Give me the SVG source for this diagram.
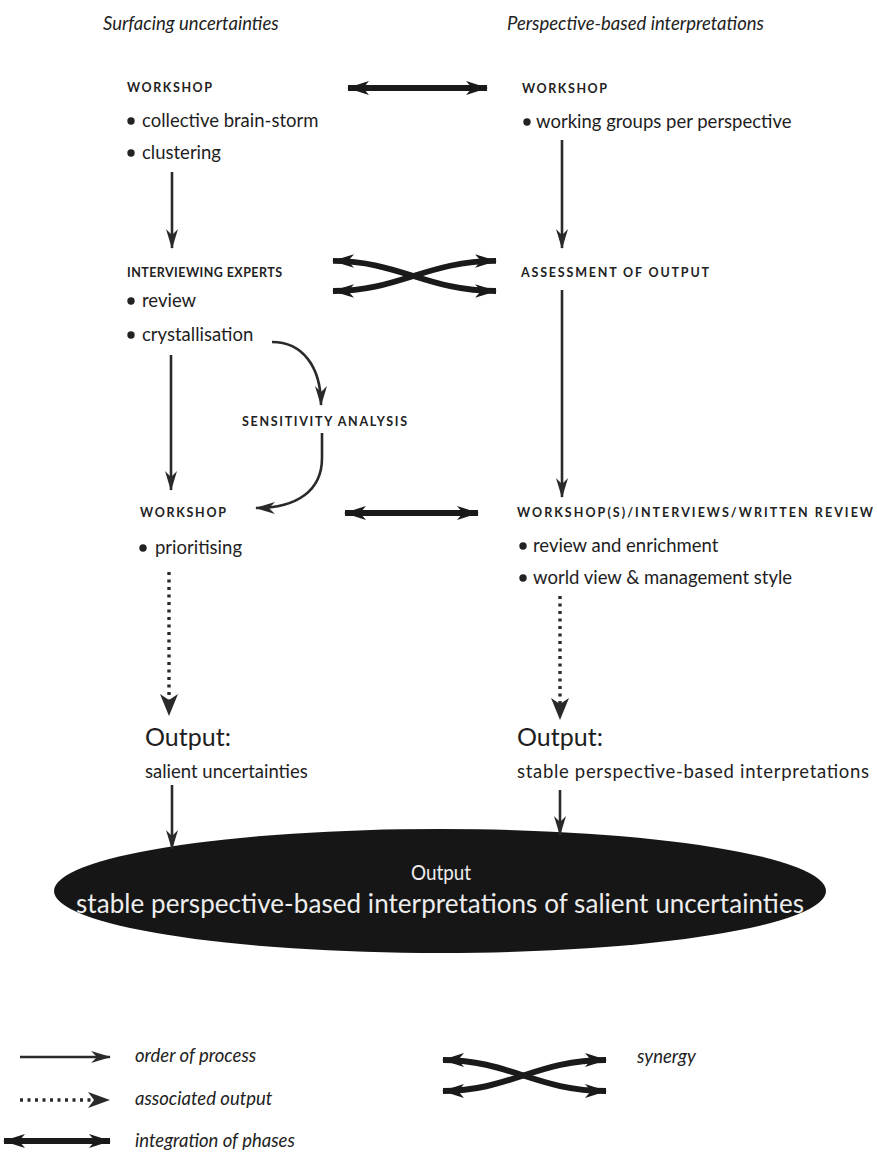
<svg xmlns="http://www.w3.org/2000/svg" width="877" height="1156" viewBox="0 0 877 1156">
  <defs>
    <style>
      .head { font-family: Lato, "Open Sans", sans-serif; font-style: italic; font-size: 18.5px; fill: #222; }
      .caps { font-family: Lato, "Open Sans", sans-serif; font-weight: 700; font-size: 12.5px; letter-spacing: 1px; fill: #222; }
      .body { font-family: Lato, "Open Sans", sans-serif; font-size: 18.5px; fill: #1e1e1e; }
      .out { font-family: Lato, "Open Sans", sans-serif; font-size: 25px; fill: #1e1e1e; }
      .leg { font-family: Lato, "Open Sans", sans-serif; font-style: italic; font-size: 18.5px; fill: #222; }
      .white { font-family: Lato, "Open Sans", sans-serif; fill: #ededed; text-anchor: middle; }
      .flow { fill: none; stroke: #2a2a2a; stroke-width: 2.6; }
      .dots { fill: none; stroke: #2a2a2a; stroke-width: 3.4; stroke-dasharray: 3 4.5; }
      .thick { fill: none; stroke: #1a1a1a; stroke-width: 6; }
      .bullet { fill: #222; }
    </style>
    <marker id="barb" viewBox="0 0 20 12" refX="19" refY="6" markerWidth="20" markerHeight="12" markerUnits="userSpaceOnUse" orient="auto">
      <path d="M0,0 L20,6 L0,12 L6,6 Z" fill="#2a2a2a"/>
    </marker>
    <marker id="barbBig" viewBox="0 0 22 14" refX="21" refY="7" markerWidth="22" markerHeight="14" markerUnits="userSpaceOnUse" orient="auto-start-reverse">
      <path d="M0,0 L22,7 L0,14 L6,7 Z" fill="#1a1a1a"/>
    </marker>
    <g id="synergyIcon">
      <path class="thick" d="M6,2 C72,2 100,33 169,33" marker-start="url(#barbBig)" marker-end="url(#barbBig)"/>
      <path class="thick" d="M6,33 C72,33 100,2 169,2" marker-start="url(#barbBig)" marker-end="url(#barbBig)"/>
    </g>
  </defs>

  <rect width="877" height="1156" fill="#ffffff"/>

  <!-- column headings -->
  <text class="head" x="103" y="30">Surfacing uncertainties</text>
  <text class="head" x="507" y="30">Perspective-based interpretations</text>

  <!-- left column -->
  <g id="workshop-1">
    <text class="caps" x="127" y="92" textLength="86">WORKSHOP</text>
    <circle class="bullet" cx="131" cy="121" r="3.7"/>
    <text class="body" x="142" y="127">collective brain-storm</text>
    <circle class="bullet" cx="131" cy="153" r="3.7"/>
    <text class="body" x="142" y="159">clustering</text>
  </g>
  <g id="interviewing-experts">
    <text class="caps" x="127" y="277" textLength="156">INTERVIEWING EXPERTS</text>
    <circle class="bullet" cx="131" cy="301" r="3.7"/>
    <text class="body" x="142" y="307">review</text>
    <circle class="bullet" cx="131" cy="335" r="3.7"/>
    <text class="body" x="142" y="341">crystallisation</text>
  </g>
  <g id="sensitivity-analysis">
    <text class="caps" x="242" y="426" textLength="166">SENSITIVITY ANALYSIS</text>
  </g>
  <g id="workshop-prioritising">
    <text class="caps" x="140" y="517" textLength="87">WORKSHOP</text>
    <circle class="bullet" cx="143" cy="548" r="3.7"/>
    <text class="body" x="155" y="554">prioritising</text>
  </g>
  <g id="output-left">
    <text class="out" x="145" y="746">Output:</text>
    <text class="body" x="145" y="778" font-size="17.5">salient uncertainties</text>
  </g>

  <!-- right column -->
  <g id="workshop-2">
    <text class="caps" x="522" y="93" textLength="86">WORKSHOP</text>
    <circle class="bullet" cx="527" cy="122" r="3.7"/>
    <text class="body" x="536" y="128">working groups per perspective</text>
  </g>
  <g id="assessment">
    <text class="caps" x="521" y="277" textLength="189">ASSESSMENT OF OUTPUT</text>
  </g>
  <g id="workshops-review">
    <text class="caps" x="517" y="517" textLength="357">WORKSHOP(S)/INTERVIEWS/WRITTEN REVIEW</text>
    <circle class="bullet" cx="523" cy="546" r="3.7"/>
    <text class="body" x="533" y="552">review and enrichment</text>
    <circle class="bullet" cx="523" cy="578" r="3.7"/>
    <text class="body" x="533" y="584">world view &amp; management style</text>
  </g>
  <g id="output-right">
    <text class="out" x="517" y="746">Output:</text>
    <text class="body" x="517" y="778" textLength="352">stable perspective-based interpretations</text>
  </g>

  <!-- combined result -->
  <g id="output-combined">
    <ellipse cx="440" cy="891" rx="386" ry="62" fill="#161616"/>
    <text class="white" x="441" y="880" font-size="22" textLength="60" lengthAdjust="spacingAndGlyphs">Output</text>
    <text class="white" x="440" y="913" font-size="26" textLength="728">stable perspective-based interpretations of salient uncertainties</text>
  </g>

  <!-- connectors -->
  <g id="connectors">
    <!-- order of process -->
    <path class="flow" d="M172,172 V248" marker-end="url(#barb)"/>
    <path class="flow" d="M562,140 V248" marker-end="url(#barb)"/>
    <path class="flow" d="M171,355 V490" marker-end="url(#barb)"/>
    <path class="flow" d="M562,290 V497" marker-end="url(#barb)"/>
    <path class="flow" d="M272,342 C302,342 321,366 321,405" marker-end="url(#barb)"/>
    <path class="flow" d="M322,433 V458 C322,490 298,508 256,508" marker-end="url(#barb)"/>
    <path class="flow" d="M172,785 V849" marker-end="url(#barb)"/>
    <path class="flow" d="M560,790 V835" marker-end="url(#barb)"/>
    <!-- associated output -->
    <path class="dots" d="M169,572 V700"/>
    <path d="M160,694 L169,716 L178,694 L169,700 Z" fill="#2a2a2a"/>
    <path class="dots" d="M560,596 V704"/>
    <path d="M551,698 L560,720 L569,698 L560,704 Z" fill="#2a2a2a"/>
    <!-- integration of phases -->
    <path class="thick" d="M348,88 H487" marker-start="url(#barbBig)" marker-end="url(#barbBig)"/>
    <path class="thick" d="M345,513 H478" marker-start="url(#barbBig)" marker-end="url(#barbBig)"/>
    <!-- synergy -->
    <use href="#synergyIcon" transform="translate(327,259) scale(1,0.97)"/>
  </g>

  <!-- legend -->
  <g id="legend">
    <path class="flow" d="M20,1057 H110" marker-end="url(#barb)"/>
    <text class="leg" x="135" y="1062">order of process</text>
    <path class="dots" d="M20,1100 H92"/>
    <path d="M88,1092 L110,1100 L88,1108 L94,1100 Z" fill="#2a2a2a"/>
    <text class="leg" x="135" y="1105">associated output</text>
    <path class="thick" d="M4,1141 H110" marker-start="url(#barbBig)" marker-end="url(#barbBig)"/>
    <text class="leg" x="135" y="1147">integration of phases</text>
    <use href="#synergyIcon" transform="translate(437,1058)"/>
    <text class="leg" x="637" y="1063">synergy</text>
  </g>
</svg>
